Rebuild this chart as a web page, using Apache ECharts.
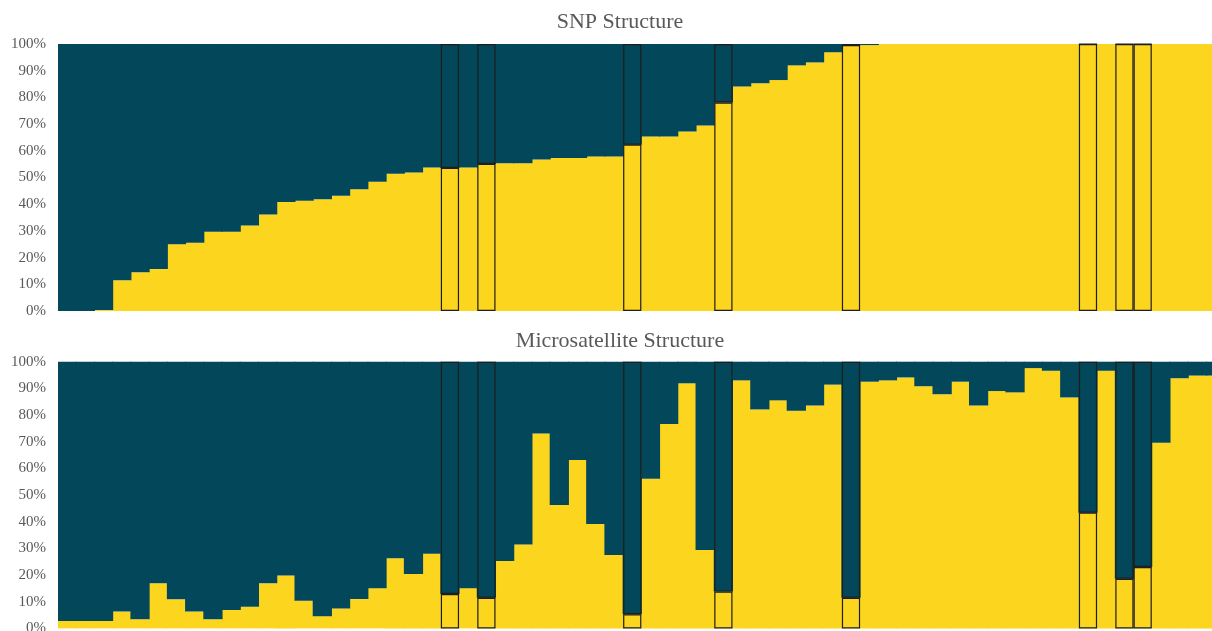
<!DOCTYPE html>
<html>
<head>
<meta charset="utf-8">
<title>SNP and Microsatellite Structure</title>
<script src="https://cdn.jsdelivr.net/npm/echarts@6/dist/echarts.min.js"></script>
<style>
  html, body { margin: 0; padding: 0; background: #ffffff; }
  #chart { width: 1212px; height: 631px; }
</style>
</head>
<body>
<div id="chart"></div>
<script>
// Individuals, in the order they are plotted (same order in both panels)
const individuals = Array.from({ length: 64 }, (_, i) => 'ind' + (i + 1));

// Cluster 1 membership (%) from the SNP STRUCTURE run
const snpCluster1 = [
  0, 0, 0.4, 11.5, 14.5, 15.7, 25.0, 25.6, 29.7, 29.7,
  32.0, 36.1, 40.8, 41.3, 41.9, 43.2, 45.6, 48.4, 51.4, 51.9,
  53.7, 53.6, 53.7, 55.1, 55.3, 55.3, 56.7, 57.3, 57.3, 57.9,
  57.9, 62.3, 65.4, 65.4, 67.2, 69.5, 78.1, 84.1, 85.3, 86.5,
  92.0, 93.1, 96.9, 99.6, 99.6, 100, 100, 100, 100, 100,
  100, 100, 100, 100, 100, 100, 100, 100, 100, 100,
  100, 100, 100, 100
];

// Cluster 1 membership (%) from the microsatellite STRUCTURE run
const msatCluster1 = [
  2.8, 2.8, 2.8, 6.3, 3.4, 16.9, 10.9, 6.3, 3.4, 6.9,
  8.1, 16.9, 19.8, 10.4, 4.6, 7.5, 11.0, 15.1, 26.3, 20.4,
  28.0, 12.9, 15.1, 11.5, 25.3, 31.5, 73.1, 46.3, 63.1, 39.1,
  27.5, 5.3, 56.1, 76.6, 91.9, 29.4, 13.8, 93.0, 82.1, 85.5,
  81.6, 83.6, 91.4, 11.5, 92.5, 93.0, 94.1, 90.8, 87.8, 92.5,
  83.6, 89.0, 88.5, 97.6, 96.6, 86.6, 43.4, 96.6, 18.6, 23.0,
  69.6, 93.8, 94.8, 94.8
];

// Individuals outlined in both panels
const highlighted = [21, 23, 31, 36, 43, 56, 58, 59];

const panelTitles = ['SNP Structure', 'Microsatellite Structure'];

const YELLOW = '#FCD51E';
const TEAL = '#02475A';
const OUTLINE = '#1e1e1e';
const TEXT = '#595959';
const SERIF = '"Liberation Serif", "Times New Roman", serif';

const PLOT_LEFT = 58;
const PLOT_WIDTH = 1166.7;   // the last individual runs past the right edge
const BAND = PLOT_WIDTH / individuals.length;
const panelRects = [
  { top: 44, height: 267 },
  { top: 361.7, height: 266.7 }
];

// grids 0-1 hold the filled bars, grids 2-3 overlay them with the outlines
const grids = panelRects.concat(panelRects).map(r => ({
  left: PLOT_LEFT, top: r.top, width: PLOT_WIDTH, height: r.height,
  outerBoundsMode: 'none', containLabel: false
}));

const xAxes = grids.map((g, i) => ({
  type: 'category',
  gridIndex: i,
  data: individuals,
  axisLine: { show: false },
  axisTick: { show: false },
  axisLabel: { show: false },
  splitLine: { show: false }
}));

const yAxes = grids.map((g, i) => ({
  type: 'value',
  gridIndex: i,
  min: 0,
  max: 100,
  interval: 10,
  axisLine: { show: false },
  axisTick: { show: false },
  splitLine: { show: false },
  axisLabel: {
    show: i < 2,
    formatter: '{value}%',
    color: TEXT,
    fontFamily: SERIF,
    fontSize: 15,
    margin: 12
  }
}));

function panelSeries(values, p) {
  const rest = values.map(v => +(100 - v).toFixed(2));
  const base = { type: 'bar', barCategoryGap: '0%', silent: true, animation: false };
  // filled bars are made a touch wider than their band so neighbours overlap without seams
  const fills = [[values, YELLOW, 'Cluster 1'], [rest, TEAL, 'Cluster 2']].map(([d, c, n]) =>
    Object.assign({}, base, {
      name: n, stack: 'fill' + p, xAxisIndex: p, yAxisIndex: p, z: 2,
      barWidth: BAND + 1,
      itemStyle: { color: c },
      data: d
    })
  );
  const pick = arr => arr.map((v, i) => (highlighted.includes(i) ? v : '-'));
  const outlines = [pick(values), pick(rest)].map((d, k) =>
    Object.assign({}, base, {
      name: 'outline' + k, stack: 'box' + p, xAxisIndex: p + 2, yAxisIndex: p + 2, z: 3,
      barWidth: '100%',
      itemStyle: { color: 'rgba(0,0,0,0)', borderColor: OUTLINE, borderWidth: 1.2 },
      data: d
    })
  );
  return fills.concat(outlines);
}

const titles = panelTitles.map((t, i) => ({
  text: t,
  left: 620,
  top: i === 0 ? 11 : 330,
  textAlign: 'center',
  padding: 0,
  textStyle: { color: TEXT, fontFamily: SERIF, fontSize: 22, fontWeight: 'normal' }
}));

const chart = echarts.init(document.getElementById('chart'), null, { renderer: 'canvas' });
chart.setOption({
  backgroundColor: '#ffffff',
  animation: false,
  title: titles,
  grid: grids,
  xAxis: xAxes,
  yAxis: yAxes,
  series: panelSeries(snpCluster1, 0).concat(panelSeries(msatCluster1, 1))
});
</script>
</body>
</html>
